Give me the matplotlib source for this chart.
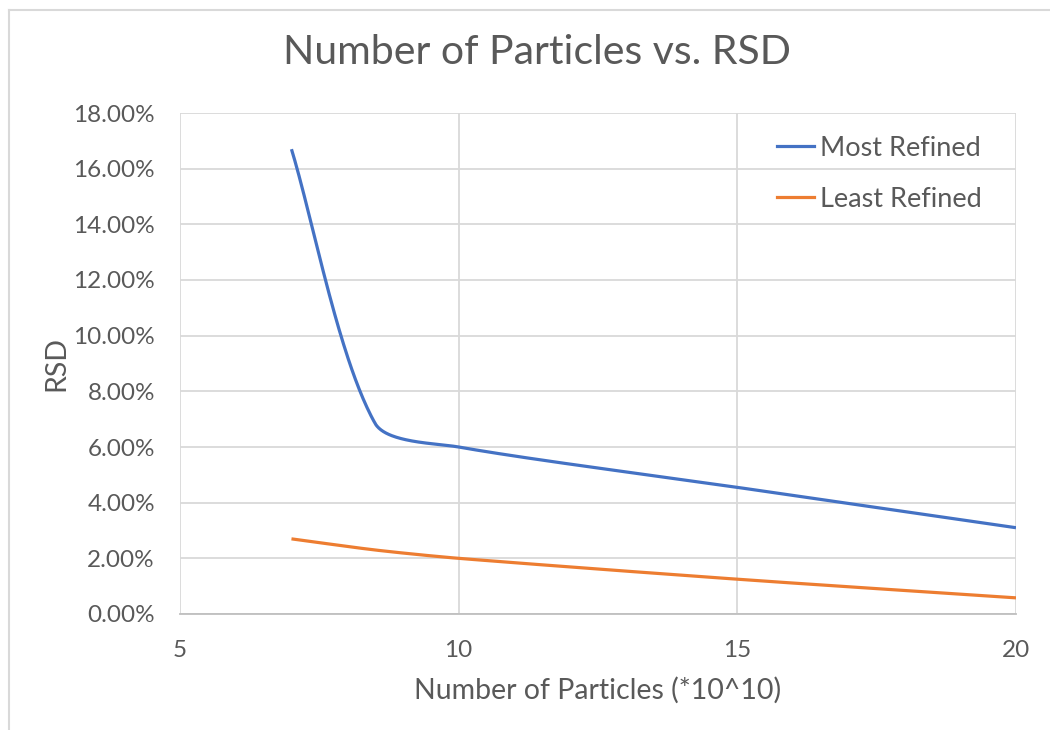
import numpy as np
import matplotlib
matplotlib.use("Agg")
import matplotlib.pyplot as plt
from matplotlib.lines import Line2D
from matplotlib.ticker import PercentFormatter

plt.rcParams['font.family'] = ['Lato', 'DejaVu Sans']

# particle counts (*10^10) and relative standard deviation (%)
particles = [7, 8.5, 10, 15, 20]
rsd_most = [16.7, 6.85, 6.0, 4.55, 3.1]
rsd_least = [2.7, 2.3, 2.0, 1.25, 0.58]

text_color = '#595959'
grid_color = '#D9D9D9'

x_range = (5, 20)
y_range = (0, 18)
ax_box = [180 / 1050, 116 / 730, 836 / 1050, 501 / 730]


def smooth(x, y, sx, sy, f=0.26, n=80):
    # smoothed line: cubic Bezier segments through every point,
    # tangents worked out in screen units and scaled to each chord
    p = np.column_stack([np.asarray(x) * sx, np.asarray(y) * sy]).astype(float)
    m = len(p)
    tang = np.zeros_like(p)
    for i in range(m):
        d = p[min(i + 1, m - 1)] - p[max(i - 1, 0)]
        tang[i] = d / np.linalg.norm(d)
    out = []
    for i in range(m - 1):
        p1, p2 = p[i], p[i + 1]
        chord = np.linalg.norm(p2 - p1)
        c1 = p1 + tang[i] * chord * f
        c2 = p2 - tang[i + 1] * chord * f
        t = np.linspace(0, 1, n)[:, None]
        seg = (1 - t) ** 3 * p1 + 3 * (1 - t) ** 2 * t * c1 + 3 * (1 - t) * t ** 2 * c2 + t ** 3 * p2
        out.append(seg if i == 0 else seg[1:])
    out = np.vstack(out)
    return out[:, 0] / sx, out[:, 1] / sy


fig = plt.figure(figsize=(10.5, 7.3), dpi=100)
ax = fig.add_axes(ax_box)

# pixels per data unit, so the smoothing follows what is on screen
sx = ax_box[2] * 1050 / (x_range[1] - x_range[0])
sy = ax_box[3] * 730 / (y_range[1] - y_range[0])

xs, ys = smooth(particles, rsd_most, sx, sy)
ax.plot(xs, ys, color='#4472C4', lw=2.3, solid_capstyle='butt')
xs, ys = smooth(particles, rsd_least, sx, sy)
ax.plot(xs, ys, color='#ED7D31', lw=2.3, solid_capstyle='butt')

ax.set_xlim(*x_range)
ax.set_ylim(*y_range)
ax.set_xticks([5, 10, 15, 20])
ax.set_yticks(np.arange(0, 19, 2))
ax.yaxis.set_major_formatter(PercentFormatter(decimals=2))
ax.grid(True, color=grid_color, lw=1.3)
ax.set_axisbelow(True)
for side in ['top', 'right', 'left']:
    ax.spines[side].set_visible(False)
ax.spines['bottom'].set_color('#BFBFBF')
ax.spines['bottom'].set_linewidth(1.3)
ax.tick_params(length=0, labelsize=17.5, labelcolor=text_color)
ax.tick_params(axis='x', pad=19)
ax.tick_params(axis='y', pad=18)

ax.set_xlabel('Number of Particles (*10^10)', fontsize=20.5, color=text_color, labelpad=11)
ax.set_ylabel('RSD', fontsize=20.5, color=text_color, labelpad=3)

fig.text(0.511, 0.928, 'Number of Particles vs. RSD', ha='center', va='center',
         fontsize=29.5, color=text_color)

handles = [Line2D([], [], color='#4472C4', lw=2.3), Line2D([], [], color='#ED7D31', lw=2.3)]
leg = ax.legend(handles, ['Most Refined', 'Least Refined'], loc='upper right',
                bbox_to_anchor=(0.988, 1.003), frameon=False, fontsize=19.5,
                handlelength=1.4, handletextpad=0.2, labelspacing=0.95)
for t in leg.get_texts():
    t.set_color(text_color)

# outer chart border (left and top edges)
fig.add_artist(Line2D([8.5 / 1050, 8.5 / 1050], [0, 1 - 9.5 / 730], color='#D9D9D9', lw=1.5))
fig.add_artist(Line2D([8.5 / 1050, 1], [1 - 9.5 / 730, 1 - 9.5 / 730], color='#D9D9D9', lw=1.5))

fig.savefig('out.png', dpi=100, facecolor='white')
